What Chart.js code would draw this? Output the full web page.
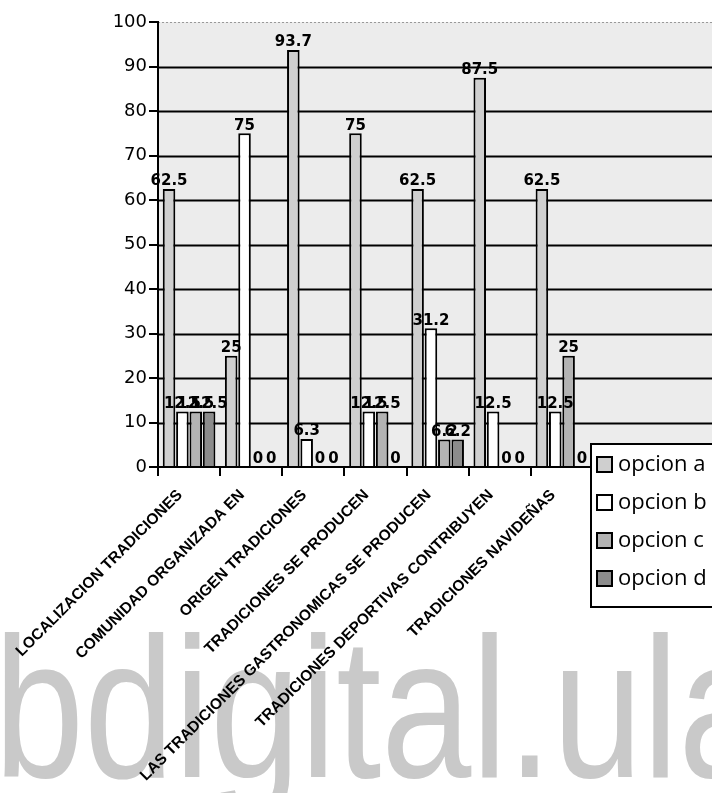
<!DOCTYPE html>
<html>
<head>
<meta charset="UTF-8"/>
<title>Tradiciones</title>
<script src="https://cdn.jsdelivr.net/npm/chart.js@4.4.0/dist/chart.umd.min.js"></script>
<style>
    html, body { margin: 0; padding: 0; background: #fff; }
    #wrap { width: 712px; height: 793px; position: relative; }
</style>
</head>
<body>
<div id="wrap">
    <canvas id="grafico"></canvas>
</div>
<script>
    // categorias y valores (%)
    var categorias = ["LOCALIZACION TRADICIONES", "COMUNIDAD ORGANIZADA EN", "ORIGEN TRADICIONES",
        "TRADICIONES SE PRODUCEN", "LAS TRADICIONES GASTRONOMICAS SE PRODUCEN",
        "TRADICIONES DEPORTIVAS CONTRIBUYEN", "TRADICIONES NAVIDEÑAS"];
    var opcionA = [62.5, 25, 93.7, 75, 62.5, 87.5, 62.5];
    var opcionB = [12.5, 75, 6.3, 12.5, 31.2, 12.5, 12.5];
    var opcionC = [12.5, 0, 0, 12.5, 6.2, 0, 25];
    var opcionD = [12.5, 0, 0, 0, 6.2, 0, 0];
    var yTicks = [0, 10, 20, 30, 40, 50, 60, 70, 80, 90, 100];

    // fondo, marca de agua y lineas que siguen hasta el borde
    var fondo = {
        id: 'fondo',
        beforeDraw: function(chart) {
            var c = chart.ctx, a = chart.chartArea, y = chart.scales.y;
            c.save();
            c.fillStyle = '#c9c9c9';
            c.font = '200px "Liberation Sans"';
            c.textBaseline = 'alphabetic';
            c.translate(-6, 777);
            c.scale(0.81, 1);
            c.fillText('bdigital.ula', 0, 0);
            c.restore();

            c.save();
            var top = y.getPixelForValue(100);
            c.fillStyle = '#ececec';
            c.fillRect(a.left, top, chart.width - a.left, a.bottom - top);
            yTicks.forEach(function(v) {
                if (v === 0) return;
                var py = Math.round(y.getPixelForValue(v)) + 0.5;
                c.beginPath();
                if (v === 100) {
                    c.strokeStyle = '#999';
                    c.lineWidth = 1;
                    c.setLineDash([2, 2]);
                } else {
                    c.strokeStyle = '#000';
                    c.lineWidth = 2;
                    c.setLineDash([]);
                }
                c.moveTo(a.left, py);
                c.lineTo(chart.width, py);
                c.stroke();
            });
            c.restore();
        }
    };

    // etiquetas de valor encima de cada barra
    var etiquetas = {
        id: 'etiquetas',
        afterDatasetsDraw: function(chart) {
            var c = chart.ctx;
            c.save();
            c.font = 'bold 15px "DejaVu Sans"';
            c.fillStyle = '#000';
            c.textAlign = 'center';
            c.textBaseline = 'bottom';
            chart.data.datasets.forEach(function(ds, i) {
                chart.getDatasetMeta(i).data.forEach(function(bar, j) {
                    c.fillText(String(ds.data[j]), bar.x, bar.y);
                });
            });
            c.restore();
        }
    };

    // leyenda dibujada a mano sobre el grafico
    var leyenda = {
        id: 'leyenda',
        afterDraw: function(chart) {
            var c = chart.ctx;
            c.save();
            c.fillStyle = '#fff';
            c.fillRect(590, 443, 130, 164);
            c.strokeStyle = '#000';
            c.lineWidth = 2;
            c.strokeRect(591, 444, 130, 163);
            c.font = '22px "Open Sans"';
            c.textBaseline = 'middle';
            chart.data.datasets.forEach(function(ds, i) {
                var cy = 465 + i * 38;
                c.fillStyle = ds.backgroundColor;
                c.fillRect(597, cy - 8, 15, 15);
                c.lineWidth = 2;
                c.strokeRect(597, cy - 8, 15, 15);
                c.fillStyle = '#000';
                c.fillText(ds.label, 618, cy);
            });
            c.restore();
        }
    };

    var ctx = document.getElementById('grafico').getContext('2d');
    var grafico = new Chart(ctx, {
        type: 'bar',
        data: {
            labels: categorias,
            datasets: [
                { label: 'opcion a', data: opcionA, backgroundColor: '#cfcfcf' },
                { label: 'opcion b', data: opcionB, backgroundColor: '#ffffff' },
                { label: 'opcion c', data: opcionC, backgroundColor: '#b3b3b3' },
                { label: 'opcion d', data: opcionD, backgroundColor: '#8c8c8c' }
            ]
        },
        options: {
            responsive: true,
            maintainAspectRatio: false,
            animation: false,
            layout: { padding: { top: 22, right: 119, left: 0, bottom: 0 } },
            datasets: {
                bar: { borderColor: '#000', borderWidth: 2, categoryPercentage: 0.86, barPercentage: 0.94 }
            },
            plugins: {
                legend: { display: false },
                tooltip: { enabled: false }
            },
            scales: {
                x: {
                    grid: { drawOnChartArea: false, tickLength: 9, color: '#000', lineWidth: 2 },
                    border: { color: '#000', width: 2 },
                    ticks: {
                        color: '#000', minRotation: 45, maxRotation: 45, autoSkip: false,
                        padding: 10, labelOffset: -9,
                        font: { family: 'Liberation Sans', weight: 'bold', size: 15.5 }
                    },
                    afterFit: function(s) { s.height = 326; }
                },
                y: {
                    min: 0, max: 100,
                    afterBuildTicks: function(s) { s.ticks = yTicks.map(function(v) { return { value: v }; }); },
                    grid: { drawOnChartArea: false, tickLength: 9, color: '#000', lineWidth: 2 },
                    border: { color: '#000', width: 2 },
                    ticks: { color: '#000', padding: 2, font: { family: 'DejaVu Sans', size: 18 } },
                    afterFit: function(s) { s.width = 158; }
                }
            }
        },
        plugins: [fondo, etiquetas, leyenda]
    });
</script>
</body>
</html>
